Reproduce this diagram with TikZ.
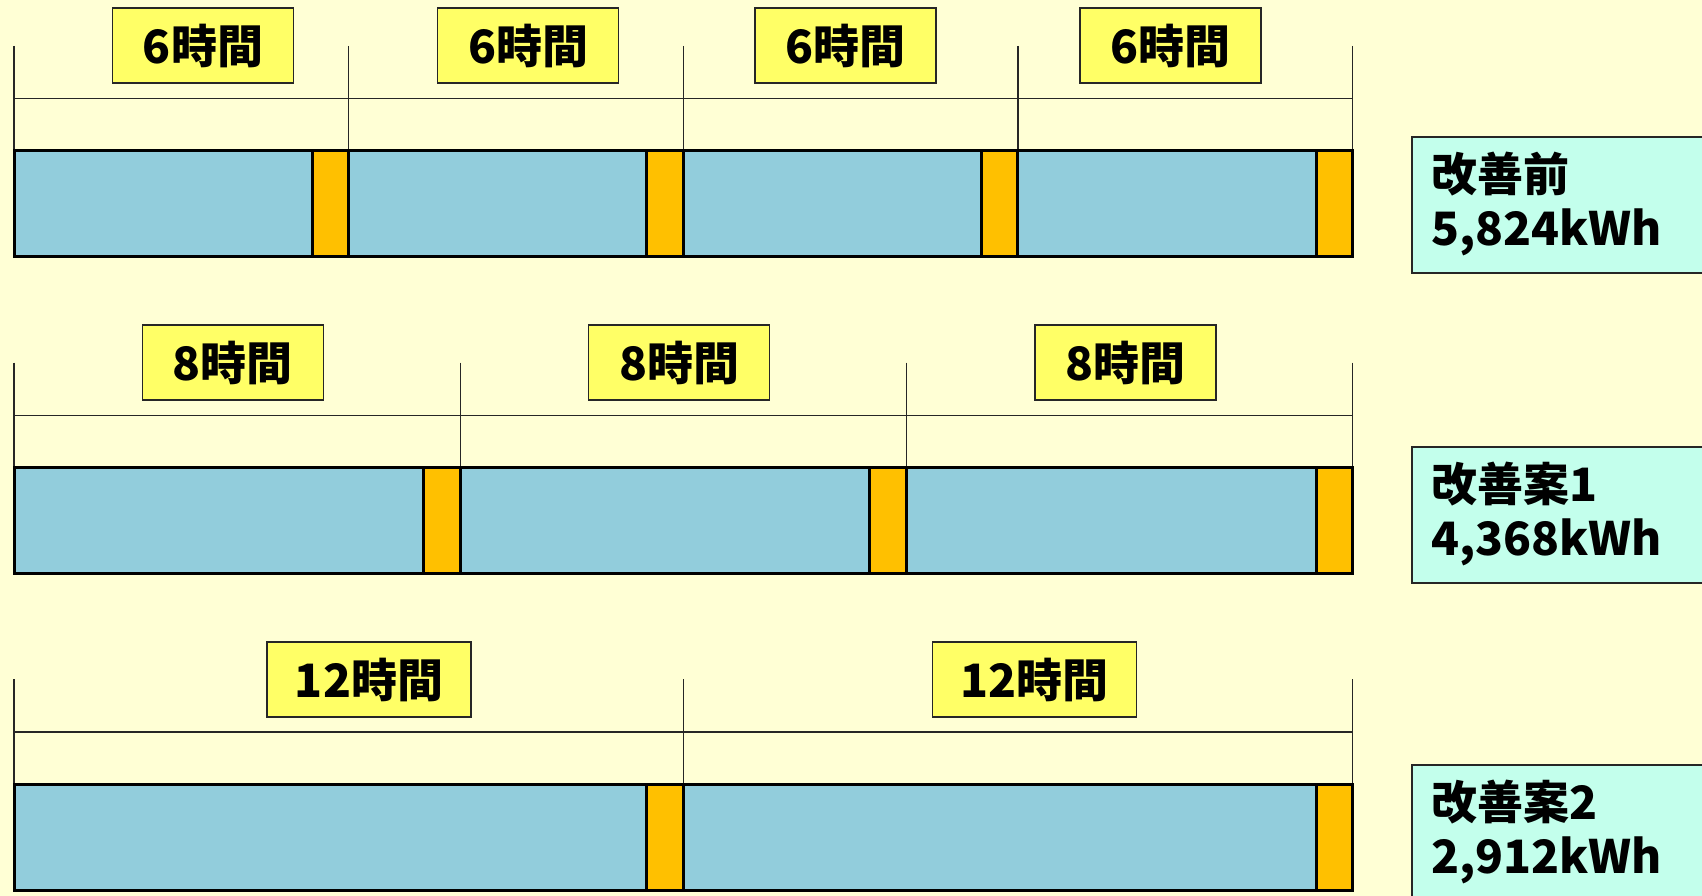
\documentclass[tikz,border=0pt]{standalone}
\usepackage{fontspec}
\newfontfamily\jp{Noto Sans CJK JP}[BoldFont={Noto Sans CJK JP Black}]
\definecolor{bgc}{HTML}{FFFFD5}
\definecolor{barblue}{HTML}{92CDDC}
\definecolor{barorange}{HTML}{FFC000}
\definecolor{labfill}{HTML}{FFFF66}
\definecolor{boxfill}{HTML}{C3FFEC}
\tikzset{
  tickline/.style={draw=black!85, line width=1.3pt},
  barline/.style={draw=black, line width=3pt},
  orangebox/.style={fill=barorange, draw=black, line width=3pt},
  lab/.style={draw=black!85, fill=labfill, line width=1.6pt, minimum height=75pt, inner sep=0pt,
    font=\jp\bfseries\fontsize{46}{52}\selectfont},
  resbox/.style={draw=black!85, fill=boxfill, line width=1.6pt, anchor=north west,
    minimum width=320pt, minimum height=136pt, inner sep=0pt},
  restext/.style={anchor=west, align=left, inner sep=0pt,
    font=\jp\bfseries\fontsize{46}{54}\selectfont}
}
\begin{document}
\begin{tikzpicture}[x=1pt,y=-1pt]
\useasboundingbox (0,0) rectangle (1702,896);
\clip (0,0) rectangle (1702,896);
\fill[bgc] (0,0) rectangle (1702,896);
\foreach \n/\r in {4/0,3/1,2/2} {
  \pgfmathsetmacro\dy{\r*316.65}
  \pgfmathsetmacro\w{1338.6/\n}
  \foreach \k in {0,...,\n} {
    \draw[tickline] ({14+\k*\w},{46+\dy}) -- ({14+\k*\w},{150.7+\dy});
  }
  \draw[tickline] (14,{98.7+\dy}) -- (1352.6,{98.7+\dy});
  \fill[barblue] (14,{150.7+\dy}) rectangle (1352.6,{256.7+\dy});
  \foreach \k in {1,...,\n} {
    \draw[orangebox] ({14+\k*\w-36.6},{150.7+\dy}) rectangle ({14+\k*\w},{256.7+\dy});
  }
  \draw[barline] (14,{150.7+\dy}) rectangle (1352.6,{256.7+\dy});
}
% labels row 1
\node[lab, minimum width=181pt] (la1) at (203,45.5) {6時間};
\node[lab, minimum width=181pt] (la2) at (528.1,45.5) {6時間};
\node[lab, minimum width=181pt] (la3) at (845.6,45.5) {6時間};
\node[lab, minimum width=181pt] (la4) at (1170.7,45.5) {6時間};
% labels row 2
\node[lab, minimum width=181pt] (lb1) at (232.9,362.6) {8時間};
\node[lab, minimum width=181pt] (lb2) at (679,362.6) {8時間};
\node[lab, minimum width=181pt] (lb3) at (1125.2,362.6) {8時間};
% labels row 3
\node[lab, minimum width=204pt] (lc1) at (369,679.5) {12時間};
\node[lab, minimum width=204pt] (lc2) at (1034.5,679.5) {12時間};
% result boxes
\node[resbox] (ra) at (1411,136) {};
\node[restext] (ta) at (1431,204) {改善前\\5,824kWh};
\node[resbox] (rb) at (1411,446) {};
\node[restext] (tb) at (1431,514) {改善案1\\4,368kWh};
\node[resbox] (rc) at (1411,764) {};
\node[restext] (tc) at (1431,832) {改善案2\\2,912kWh};
\end{tikzpicture}
\end{document}
